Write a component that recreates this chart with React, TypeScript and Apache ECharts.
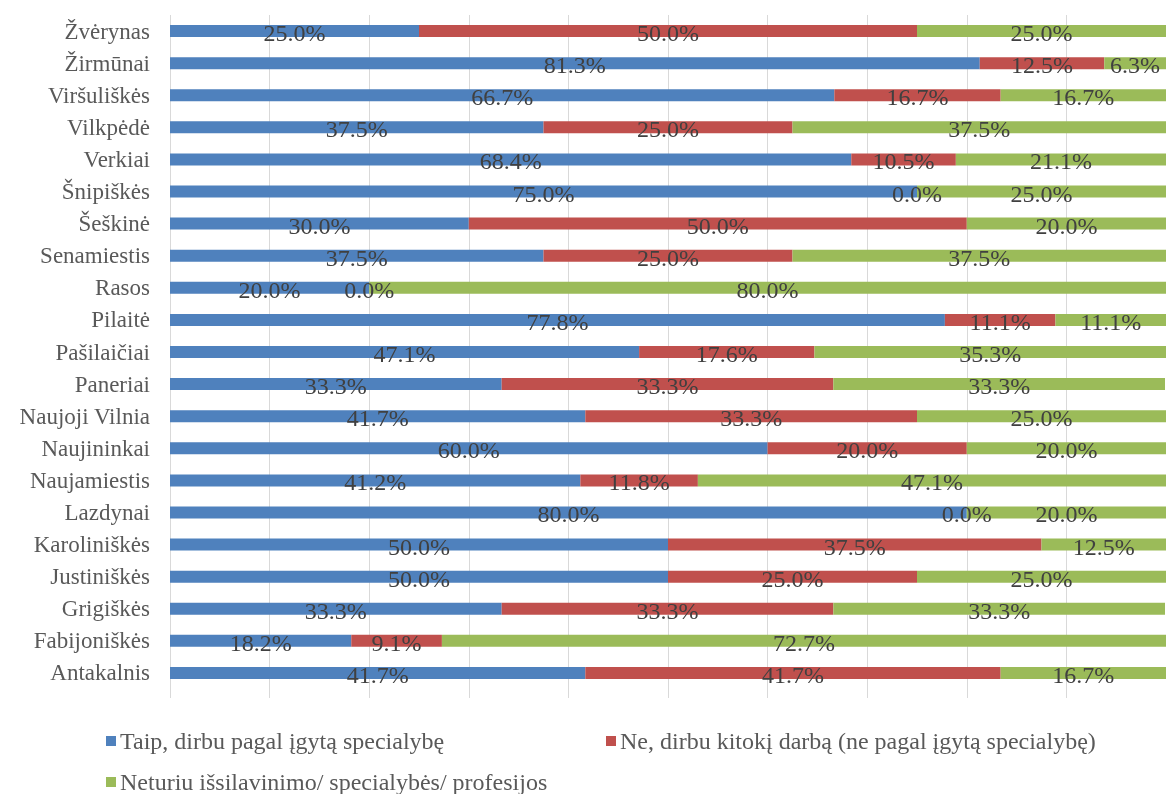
import React, { useEffect, useRef } from "react";
import * as echarts from "echarts";

const categories = [
  "Antakalnis", "Fabijoniškės", "Grigiškės", "Justiniškės", "Karoliniškės", "Lazdynai",
  "Naujamiestis", "Naujininkai", "Naujoji Vilnia", "Paneriai", "Pašilaičiai", "Pilaitė",
  "Rasos", "Senamiestis", "Šeškinė", "Šnipiškės", "Verkiai", "Vilkpėdė", "Viršuliškės",
  "Žirmūnai", "Žvėrynas",
];
const taip = [41.7, 18.2, 33.3, 50.0, 50.0, 80.0, 41.2, 60.0, 41.7, 33.3, 47.1, 77.8, 20.0, 37.5, 30.0, 75.0, 68.4, 37.5, 66.7, 81.3, 25.0];
const ne = [41.7, 9.1, 33.3, 25.0, 37.5, 0.0, 11.8, 20.0, 33.3, 33.3, 17.6, 11.1, 0.0, 25.0, 50.0, 0.0, 10.5, 25.0, 16.7, 12.5, 50.0];
const neturiu = [16.7, 72.7, 33.3, 25.0, 12.5, 20.0, 47.1, 20.0, 25.0, 33.3, 35.3, 11.1, 80.0, 37.5, 20.0, 25.0, 21.1, 37.5, 16.7, 6.3, 25.0];
const seriesNames = [
  "Taip, dirbu pagal įgytą specialybę",
  "Ne, dirbu kitokį darbą (ne pagal įgytą specialybę)",
  "Neturiu išsilavinimo/ specialybės/ profesijos",
];
const colors = ["#4f81bd", "#c0504d", "#9bbb59"];

const FONT = "'Liberation Serif', 'Times New Roman', serif";

export default function App() {
  const ref = useRef<HTMLDivElement>(null);
  useEffect(() => {
    if (!ref.current) return;
    const chart = echarts.init(ref.current, undefined, { renderer: "svg" });
    const datasets = [taip, ne, neturiu];
    chart.setOption({
      animation: false,
      textStyle: { fontFamily: FONT },
      grid: { left: 170, right: 0, top: 15, bottom: 105, containLabel: false },
      xAxis: {
        type: "value",
        min: 0,
        max: 100,
        interval: 10,
        axisLabel: { show: false },
        axisLine: { show: false },
        axisTick: { show: true, length: 9, lineStyle: { color: "#d9d9d9" } },
        splitLine: { show: true, lineStyle: { color: "#d9d9d9", width: 1 } },
      },
      yAxis: {
        type: "category",
        data: categories,
        axisLine: { show: false },
        axisTick: { show: false },
        axisLabel: { fontFamily: FONT, fontSize: 23, color: "#595959", margin: 20 },
      },
      legend: seriesNames.map((n, i) => ({
        data: [n],
        left: i === 1 ? 601 : 101,
        top: i === 2 ? 765 : 724,
        itemWidth: 10,
        itemHeight: 10,
        icon: "rect",
        itemGap: 4,
        textStyle: { fontFamily: FONT, fontSize: 24, color: "#595959", padding: [0, 0, 0, -1] },
      })),
      series: seriesNames.map((n, i) => ({
        name: n,
        type: "bar",
        stack: "total",
        barWidth: 12,
        data: datasets[i],
        itemStyle: { color: colors[i] },
        label: {
          show: true,
          position: "inside",
          offset: [0, 2],
          formatter: (p: any) => Number(p.value).toFixed(1) + "%",
          fontFamily: FONT,
          fontSize: 24,
          color: "#404040",
        },
      })),
    });
    return () => chart.dispose();
  }, []);
  return (
    <div
      ref={ref}
      style={{ position: "fixed", left: 0, top: 0, width: 1166, height: 794 }}
    />
  );
}
